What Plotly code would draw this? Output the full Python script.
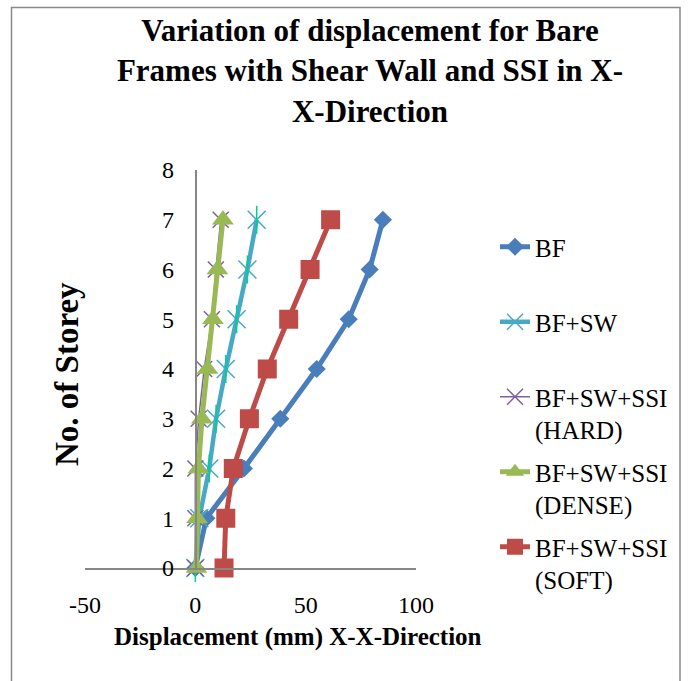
import plotly.graph_objects as go

# Storey numbers (0 = base) and lateral displacement in mm, X-X direction
storeys = [0, 1, 2, 3, 4, 5, 6, 7]
bf = [0, 5, 22, 38.5, 55, 69.5, 79, 85]
bf_sw = [0, 1.8, 6.3, 9.4, 13.8, 18.7, 23.6, 27.8]
bf_sw_ssi_hard = [0, 0, 0, 1.5, 4, 7.5, 9.3, 11.5]
bf_sw_ssi_dense = [0.5, 0.8, 1.4, 3, 5.5, 8, 10, 12.5]
bf_sw_ssi_soft = [13, 13.8, 17.2, 24.5, 32.6, 42.3, 52, 61.3]

x_ticks = [-50, 0, 50, 100]
x_tick_text = ["-50", "0", "50", "100"]
y_ticks = [0, 1, 2, 3, 4, 5, 6, 7, 8]

FONT = "Times New Roman, Liberation Serif, serif"
W, H = 689, 681
L, R, T, B = 85, 273, 170, 113  # plot area 85..416 x 170..568

fig = go.Figure()

fig.add_trace(go.Scatter(
    x=bf, y=storeys, name="BF\u00a0<br>\u00a0", mode="lines+markers",
    legendgroup="bf",
    line=dict(color="#4A7EBB", width=5),
    marker=dict(symbol="diamond", size=14, color="#4A7EBB"),
))
fig.add_trace(go.Scatter(
    x=bf_sw, y=storeys, name="BF+SW<br>\u00a0", mode="lines+markers",
    legendgroup="sw",
    line=dict(color="#46AAC5", width=4.5),
    marker=dict(symbol="x-thin-open", size=18,
                line=dict(color="#46AAC5", width=1.5)),
))
# vertical stroke completing the star marker of BF+SW
fig.add_trace(go.Scatter(
    x=bf_sw, y=storeys, mode="markers", showlegend=False, hoverinfo="skip",
    legendgroup="sw",
    marker=dict(symbol="line-ns-open", size=20,
                line=dict(color="#46AAC5", width=1.5)),
))
fig.add_trace(go.Scatter(
    x=bf_sw_ssi_hard, y=storeys, name="BF+SW+SSI<br>(HARD)", mode="lines+markers",
    legendgroup="hard",
    line=dict(color="#7D60A0", width=1.5),
    marker=dict(symbol="x-thin-open", size=16,
                line=dict(color="#7D60A0", width=1.5)),
))
fig.add_trace(go.Scatter(
    x=bf_sw_ssi_dense, y=storeys, name="BF+SW+SSI<br>(DENSE)", mode="lines+markers",
    legendgroup="dense",
    line=dict(color="#98B954", width=5),
    marker=dict(symbol="triangle-up", size=19, color="#98B954"),
))
fig.add_trace(go.Scatter(
    x=bf_sw_ssi_soft, y=storeys, name="BF+SW+SSI<br>(SOFT)", mode="lines+markers",
    legendgroup="soft",
    line=dict(color="#BE4B48", width=5),
    marker=dict(symbol="square", size=19, color="#BE4B48"),
))

for tr in fig.data:
    tr.cliponaxis = False

pw, ph = W - L - R, H - T - B


def px_x(v):
    return (v - L) / pw


def px_y(v):
    return (H - B - v) / ph


fig.update_layout(
    width=W, height=H,
    margin=dict(l=L, r=R, t=T, b=B),
    paper_bgcolor="white", plot_bgcolor="white",
    font=dict(family=FONT, color="black", size=24),
    title=dict(
        text="<b>Variation of displacement for Bare<br>Frames with Shear Wall and SSI in X-<br>X-Direction</b>",
        x=370 / W, xanchor="center", xref="container",
        y=1 - 41 / H, yanchor="top", yref="container",
        font=dict(family=FONT, size=31, color="black"),
    ),
    xaxis=dict(
        range=[-50, 100], tickvals=x_ticks, ticktext=x_tick_text, ticks="",
        showgrid=False, zeroline=False, showline=True,
        linecolor="#868686", linewidth=1.5,
        tickfont=dict(size=24), ticklabelstandoff=14,
    ),
    yaxis=dict(
        range=[0, 8], tickvals=y_ticks, ticks="", showgrid=False,
        zeroline=False, showline=True, linecolor="#868686", linewidth=1.5,
        anchor="free", position=(195.5 - L) / pw,
        tickfont=dict(size=24), ticklabelstandoff=16,
    ),
    legend=dict(
        x=px_x(495), xanchor="left", y=px_y(224), yanchor="top",
        valign="top", font=dict(size=25, family=FONT),
        bgcolor="rgba(0,0,0,0)", tracegroupgap=7,
    ),
    showlegend=True,
)

# axis titles
fig.add_annotation(
    text="<b>Displacement (mm) X-X-Direction</b>", xref="paper", yref="paper",
    x=px_x(297.5), y=px_y(637), xanchor="center", yanchor="middle",
    showarrow=False, font=dict(size=25, family=FONT),
)
fig.add_annotation(
    text="<b>No. of Storey</b>", xref="paper", yref="paper",
    x=px_x(67), y=px_y(374), xanchor="center", yanchor="middle",
    textangle=-90, showarrow=False, font=dict(size=33, family=FONT),
)

# chart-area border
fig.add_shape(
    type="rect", xref="paper", yref="paper",
    x0=px_x(11.5), x1=px_x(680), y0=px_y(695), y1=px_y(7.5),
    line=dict(color="#898989", width=1.5), fillcolor="rgba(0,0,0,0)",
    layer="below",
)

fig.write_html("out.html")
